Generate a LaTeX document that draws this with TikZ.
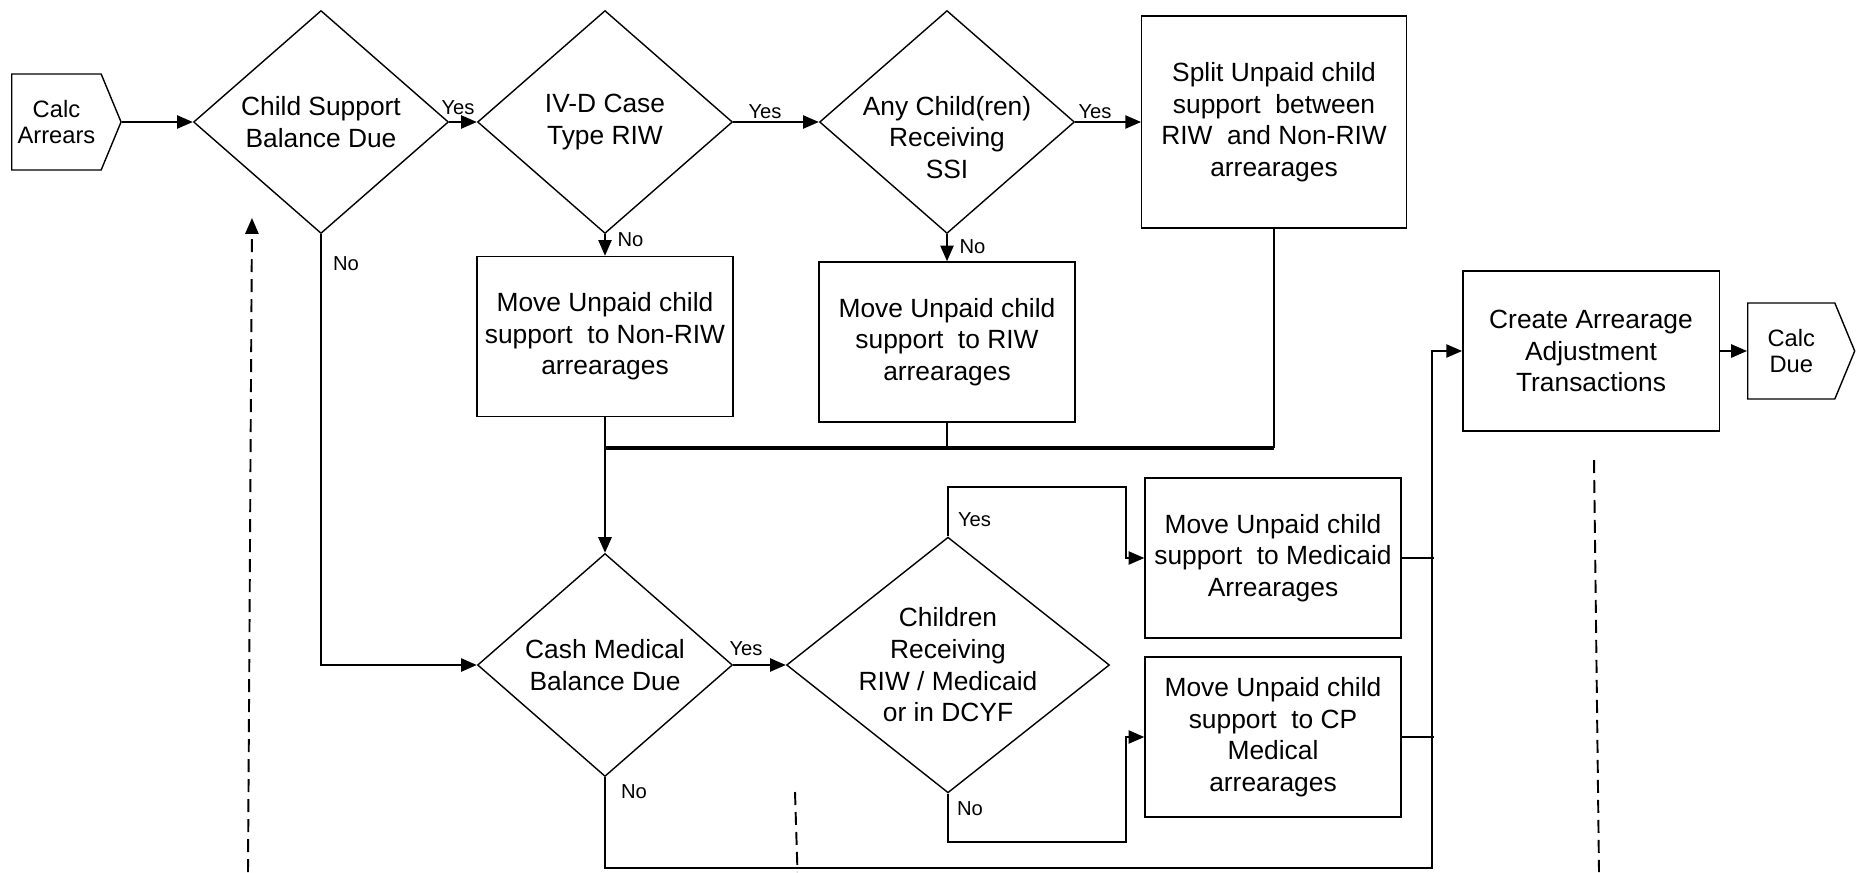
\documentclass[tikz,border=0pt]{standalone}
\usepackage{fontspec}
\setmainfont{Liberation Sans}
\usetikzlibrary{shapes}
\usetikzlibrary{arrows.meta}

\begin{document}
\begin{tikzpicture}[x=0.02cm, y=-0.02cm,
    flow/.style={line width=1.1pt},
    arr/.style={-{Triangle[length=9pt, width=7.5pt]}},
    txt/.style={align=center, inner sep=0pt, font=\fontsize{15}{18}\selectfont},
    box/.style={txt, draw, line width=0.8pt, minimum width=5.12cm, minimum height=3.2cm},
    decision/.style={txt, draw, diamond, line width=0.8pt, aspect=1.143,
      minimum width=5.1cm, minimum height=4.46cm},
    term/.style={draw, signal, signal to=east, signal pointer angle=135,
      line width=0.8pt, align=center, minimum width=2.14cm, minimum height=1.92cm,
      font=\fontsize{13.5}{15.3}\selectfont},
    lbl/.style={inner sep=0pt, font=\fontsize{11.5}{13}\selectfont},
    dashline/.style={line width=1.1pt, dash pattern=on 0.26cm off 0.14cm}]

  \fill[white] (0,0) rectangle (1865,872);
  \useasboundingbox (0,0) rectangle (1865,872);

  % top row
  \node[term, anchor=west] (arrears) at (11,122) {Calc\\Arrears};
  \node[decision] (d1) at (321,122) {Child Support\\Balance Due};
  \node[decision] (d2) at (605,122) {IV-D Case\\Type RIW};
  \node[decision] (d3) at (947,122) {};
  \node[txt] (d3txt) at (947,137.5) {Any Child(ren)\\Receiving\\SSI};
  \node[box, minimum width=5.29cm, minimum height=4.24cm] (split) at (1274,122)
    {Split Unpaid child\\support~ between\\RIW~ and Non-RIW\\arrearages};
  \node[box] (nonriw) at (605,336.5) {Move Unpaid child\\support~ to Non-RIW\\arrearages};
  \node[box] (riw) at (947,342) {Move Unpaid child\\support~ to RIW\\arrearages};

  % medical part
  \node[decision] (cm) at (605,665) {Cash Medical\\Balance Due};
  \node[decision, aspect=1.263, minimum width=6.44cm, minimum height=5.1cm] (d4) at (948,665)
    {Children\\Receiving\\RIW / Medicaid\\or in DCYF};
  \node[box] (medicaid) at (1273,558) {Move Unpaid child\\support~ to Medicaid\\Arrearages};
  \node[box] (cp) at (1273,737) {Move Unpaid child\\support~ to CP\\Medical\\arrearages};
  \node[box, minimum width=5.13cm] (create) at (1591,351)
    {Create Arrearage\\Adjustment\\Transactions};
  \node[term, anchor=west] (due) at (1747,351) {Calc\\Due};

  \foreach \nm/\xx/\yy/\txt in {y1/458/107.5/Yes, y2/765/112/Yes, y3/1095/112/Yes,
      n1/346/264/No, n2/630.5/240/No, n3/972.5/246.7/No,
      y4/746/648.5/Yes, n4/634/792/No, y5/974.5/520/Yes, n5/970/809/No}
    \node[lbl] (\nm) at (\xx,\yy) {\txt};

  % connectors
  \draw[flow, arr] (arrears.east) -- (d1.west);
  \draw[flow, arr] (d1.east) -- (d2.west);
  \draw[flow, arr] (d2.east) -- (d3.west);
  \draw[flow, arr] (d3.east) -- (split.west);
  \draw[flow, arr] (d2.south) -- (nonriw.north);
  \draw[flow, arr] (d3.south) -- (riw.north);
  \draw[flow, arr] (d1.south) |- (cm.west);

  \coordinate (mrg) at (605,448);
  \draw[flow] (nonriw.south) -- (mrg);
  \draw[flow] (riw.south) -- (riw.south |- mrg);
  \draw[flow] (split.south) -- (split.south |- mrg);
  \draw[line width=1.8pt] (split.south |- mrg) -- (mrg);
  \draw[line width=1.6pt, arr] (mrg) -- (cm.north);

  \draw[flow, arr] (cm.east) -- (d4.west);
  \draw[flow, arr] (d4.north) -- ++(0,-49) -| ([xshift=-0.36cm]medicaid.west) -- (medicaid.west);
  \draw[flow, arr] (d4.south) -- ++(0,48) -| ([xshift=-0.36cm]cp.west) -- (cp.west);
  \draw[flow] (medicaid.east) -- ++(32,0);
  \draw[flow] (cp.east) -- ++(32,0);
  \draw[flow, arr] (cm.south) -- ++(0,91) -| ([xshift=-0.6cm]create.west) -- (create.west);
  \draw[flow, arr] (create.east) -- (due.west);

  % page links
  \coordinate (lbot) at (248,872);
  \coordinate (ltop) at (252,218);
  \coordinate (mtop) at (795,792);
  \coordinate (mbot) at (797.5,872);
  \coordinate (rtop) at (1594,460);
  \coordinate (rbot) at (1599,872);
  \draw[dashline, arr] (lbot) -- (ltop);
  \draw[dashline] (mtop) -- (mbot);
  \draw[dashline] (rtop) -- (rbot);
\end{tikzpicture}
\end{document}
